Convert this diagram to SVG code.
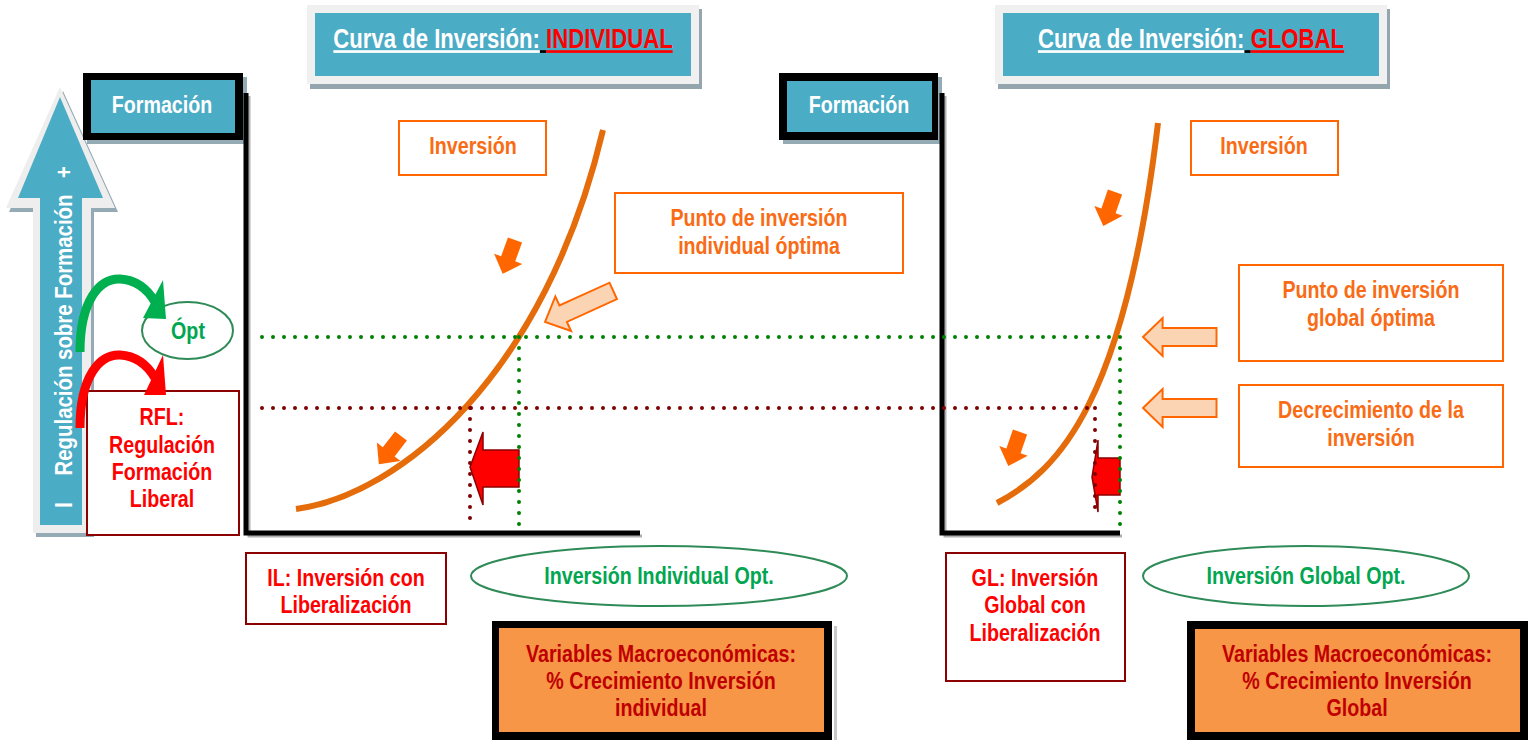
<svg xmlns="http://www.w3.org/2000/svg" width="1531" height="740" viewBox="0 0 1531 740">
<style>
.t{font-family:"Liberation Sans",Arial,sans-serif;font-weight:bold;font-size:24px;text-anchor:middle}
.tt{font-size:27px}
.or{fill:#f96b14}
.red{fill:#ff0000}
.grn{fill:#00a650}
.wht{fill:#ffffff}
.mac{fill:#c00000}
.obox{fill:#ffffff;stroke:#ff6600;stroke-width:2}
.rbox{fill:#ffffff;stroke:#8b0000;stroke-width:2}
.gell{fill:#ffffff;stroke:#2e8b57;stroke-width:2}
.blue{fill:#4bacc6}
.shadow{fill:#94aab4}
.dotg{fill:none;stroke:#008000;stroke-width:4;stroke-linecap:round;stroke-dasharray:0 11}
.dotr{fill:none;stroke:#7f0000;stroke-width:4;stroke-linecap:round;stroke-dasharray:0 11}
.curve{fill:none;stroke:#e46c0a;stroke-width:6}
.darr{fill:#ff6600}
.parr{fill:#fbd4b4;stroke:#ff6600;stroke-width:2}
.rarr{fill:#ff0000;stroke:#8b0000;stroke-width:1.5}
.axis{fill:none;stroke:#000000;stroke-width:5}
.axs{fill:none;stroke:#b0b0b0;stroke-width:3}
</style>
<defs>
<path id="downArrow" d="M-7.5,0 L7.5,0 L7.5,20 L15,20 L0,36 L-15,20 L-7.5,20 Z"/>
<path id="leftArrow" d="M0,0 L20,-19 L20,-9 L75,-9 L75,9 L20,9 L20,19 Z"/>
</defs>
<rect width="1531" height="740" fill="#ffffff"/>

<!-- Titles -->
<g id="title-individual">
<rect x="310" y="9" width="392" height="80" fill="#95a5ad"/>
<rect x="307" y="5" width="392" height="79" fill="#f0f0f0"/>
<rect x="315" y="13" width="376" height="63" class="blue"/>
<text class="t tt" transform="translate(503,48) scale(0.82,1)"><tspan class="wht" text-decoration="underline">Curva de Inversión:</tspan><tspan fill="#000" text-decoration="underline"> </tspan><tspan class="red" text-decoration="underline">INDIVIDUAL</tspan></text>
</g>
<g id="title-global">
<rect x="998" y="9" width="392" height="80" fill="#95a5ad"/>
<rect x="995" y="5" width="392" height="79" fill="#f0f0f0"/>
<rect x="1003" y="13" width="376" height="63" class="blue"/>
<text class="t tt" transform="translate(1191,48) scale(0.82,1)"><tspan class="wht" text-decoration="underline">Curva de Inversión:</tspan><tspan fill="#000" text-decoration="underline"> </tspan><tspan class="red" text-decoration="underline">GLOBAL</tspan></text>
</g>

<!-- Regulation arrow -->
<g id="regulacion-arrow">
<path d="M63,91 L118,212 L94,212 L94,537 L36,537 L36,212 L9,212 Z" class="shadow"/>
<path d="M60,87 L115,208 L91,208 L91,533 L33,533 L33,208 L6,208 Z" fill="#eeeeee"/>
<path d="M60,97 L103,198 L82,198 L82,525 L40,525 L40,198 L18,198 Z" class="blue"/>
<text class="t wht" transform="translate(72,335) rotate(-90) scale(0.85,1)">Regulación  sobre Formación</text>
<text class="t wht" transform="translate(72,172) rotate(-90) scale(0.85,1)">+</text>
<text class="t wht" transform="translate(72,505) rotate(-90) scale(0.85,1)">I</text>
</g>

<!-- Formacion boxes -->
<g id="formacion-left">
<rect x="87" y="77" width="160" height="67" class="shadow"/>
<rect x="83" y="73" width="160" height="67" fill="#000"/>
<rect x="91" y="80" width="144" height="53" class="blue"/>
<text class="t wht" transform="translate(162,113) scale(0.82,1)">Formación</text>
</g>
<g id="formacion-right">
<rect x="783" y="77" width="159" height="67" class="shadow"/>
<rect x="779" y="73" width="159" height="67" fill="#000"/>
<rect x="787" y="81" width="145" height="51" class="blue"/>
<text class="t wht" transform="translate(859,113) scale(0.82,1)">Formación</text>
</g>

<!-- Axes -->
<g id="axes">
<path class="axs" d="M249,96 L249,536 L642,536"/>
<path class="axis" d="M246,93 L246,533 L640,533"/>
<path class="axs" d="M945,96 L945,536 L1122,536"/>
<path class="axis" d="M942,93 L942,533 L1120,533"/>
</g>

<!-- RFL -->
<g id="rfl">
<rect x="87" y="391" width="152" height="144" class="rbox"/>
<text class="t red" transform="translate(162,425) scale(0.82,1)">RFL:</text>
<text class="t red" transform="translate(162,453) scale(0.82,1)">Regulación</text>
<text class="t red" transform="translate(162,480) scale(0.82,1)">Formación</text>
<text class="t red" transform="translate(162,507) scale(0.82,1)">Liberal</text>
</g>

<g id="opt">
<ellipse cx="187.5" cy="330.5" rx="45.5" ry="28.5" class="gell"/>
<text class="t grn" transform="translate(188,339) scale(0.82,1)">Ópt</text>
</g>

<g id="curved-arrows">
<path d="M80,352 C80,300 100,278 120,279 C137,280 148,290 155,302" fill="none" stroke="#00b050" stroke-width="9"/>
<path d="M163,280 L166,319 L143,318 Z" fill="#00b050"/>
<path d="M80,428 C80,376 100,354 120,355 C137,356 148,366 155,378" fill="none" stroke="#ff0000" stroke-width="9"/>
<path d="M163,355 L166,395 L144,395 Z" fill="#ff0000"/>
</g>

<!-- Orange boxes -->
<g id="inversion-left">
<rect x="399" y="121" width="147" height="54" class="obox"/>
<text class="t or" transform="translate(473,154) scale(0.82,1)">Inversión</text>
</g>
<g id="punto-individual">
<rect x="615" y="193" width="288" height="80" class="obox"/>
<text class="t or" transform="translate(759,226) scale(0.82,1)">Punto de inversión</text>
<text class="t or" transform="translate(759,254) scale(0.82,1)">individual óptima</text>
</g>
<g id="inversion-right">
<rect x="1191" y="121" width="147" height="54" class="obox"/>
<text class="t or" transform="translate(1264,154) scale(0.82,1)">Inversión</text>
</g>
<g id="punto-global">
<rect x="1239" y="265" width="264" height="96" class="obox"/>
<text class="t or" transform="translate(1371,298) scale(0.82,1)">Punto de inversión</text>
<text class="t or" transform="translate(1371,326) scale(0.82,1)">global óptima</text>
</g>
<g id="decrecimiento">
<rect x="1239" y="385" width="264" height="82" class="obox"/>
<text class="t or" transform="translate(1371,418) scale(0.82,1)">Decrecimiento de la</text>
<text class="t or" transform="translate(1371,446) scale(0.82,1)">inversión</text>
</g>

<!-- Curves -->
<g id="curve-individual">
<path class="curve" d="M296,509 C400,495 545,375 603,130"/>
</g>
<g id="curve-global">
<path class="curve" d="M997,503 C1060,470 1125,400 1158,123"/>
</g>

<!-- Connectors / indicators -->
<g id="connectors">
<use href="#downArrow" class="darr" transform="translate(515,240) rotate(20)"/>
<use href="#downArrow" class="darr" transform="translate(401,436) rotate(38)"/>
<use href="#downArrow" class="darr" transform="translate(1115,192) rotate(19)"/>
<use href="#downArrow" class="darr" transform="translate(1020,432) rotate(19)"/>
<use href="#leftArrow" class="parr" transform="translate(545,322) rotate(-24.5)"/>
<use href="#leftArrow" class="parr" transform="translate(1143,337) scale(0.98,1)"/>
<use href="#leftArrow" class="parr" transform="translate(1143,408) scale(0.98,1)"/>
<path class="rarr" d="M470,467 L483,432 L483,450 L519,450 L519,487 L483,487 L483,505 Z"/>
<path class="rarr" d="M1092,477 L1098,440 L1098,458 L1120,458 L1120,495 L1098,495 L1098,512 Z"/>
<path class="dotg" d="M262,337 L1120,337"/>
<path class="dotr" d="M262,408 L1095,408"/>
<path class="dotg" d="M519,337 L519,525"/>
<path class="dotr" d="M470,408 L470,520"/>
<path class="dotg" d="M1120,337 L1120,528"/>
<path class="dotr" d="M1095,408 L1095,515"/>
</g>

<!-- Bottom labels -->
<g id="il">
<rect x="246" y="553" width="200" height="71" class="rbox"/>
<text class="t red" transform="translate(346,586) scale(0.82,1)">IL: Inversión con</text>
<text class="t red" transform="translate(346,613) scale(0.82,1)">Liberalización</text>
</g>
<g id="inv-individual-opt">
<ellipse cx="659" cy="576" rx="188" ry="30" class="gell"/>
<text class="t grn" transform="translate(659,584) scale(0.82,1)">Inversión Individual Opt.</text>
</g>
<g id="gl">
<rect x="946" y="553" width="179" height="128" class="rbox"/>
<text class="t red" transform="translate(1035,586) scale(0.82,1)">GL: Inversión</text>
<text class="t red" transform="translate(1035,613) scale(0.82,1)">Global con</text>
<text class="t red" transform="translate(1035,641) scale(0.82,1)">Liberalización</text>
</g>
<g id="inv-global-opt">
<ellipse cx="1306" cy="576" rx="163" ry="30" class="gell"/>
<text class="t grn" transform="translate(1306,584) scale(0.82,1)">Inversión Global Opt.</text>
</g>
<g id="macro-individual">
<rect x="834" y="626" width="3" height="120" fill="#c8c8c8"/>
<rect x="492" y="621" width="340" height="125" fill="#000"/>
<rect x="499" y="628" width="325" height="104" fill="#f79646"/>
<text class="t mac" transform="translate(661,662) scale(0.82,1)">Variables Macroeconómicas:</text>
<text class="t mac" transform="translate(661,689) scale(0.82,1)">% Crecimiento Inversión</text>
<text class="t mac" transform="translate(661,716) scale(0.82,1)">individual</text>
</g>
<g id="macro-global">
<rect x="1187" y="621" width="341" height="125" fill="#000"/>
<rect x="1195" y="629" width="325" height="103" fill="#f79646"/>
<text class="t mac" transform="translate(1357,662) scale(0.82,1)">Variables Macroeconómicas:</text>
<text class="t mac" transform="translate(1357,689) scale(0.82,1)">% Crecimiento Inversión</text>
<text class="t mac" transform="translate(1357,716) scale(0.82,1)">Global</text>
</g>
</svg>
